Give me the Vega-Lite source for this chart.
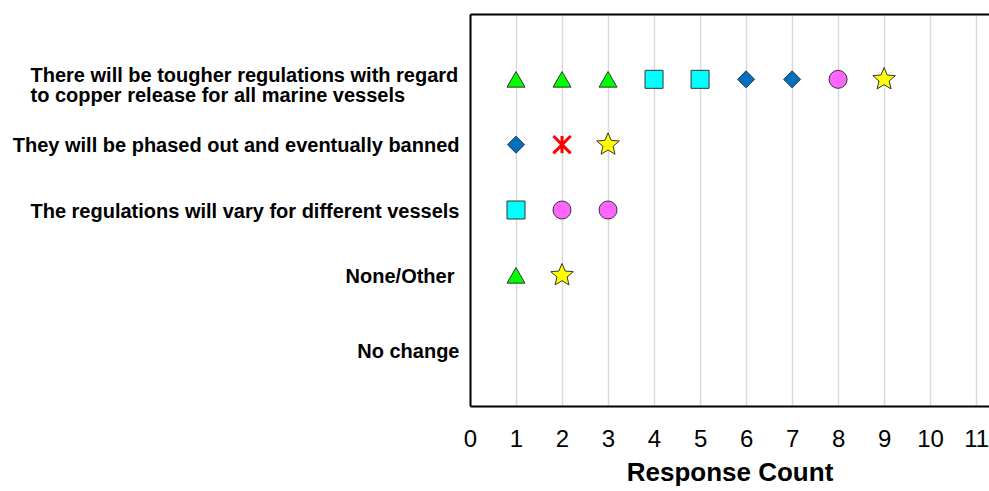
{
  "$schema": "https://vega.github.io/schema/vega-lite/v6.json",
  "width": 519,
  "height": 392,
  "autosize": {"type": "none"},
  "padding": {"left": 470, "top": 14, "right": 0, "bottom": 85},
  "background": "white",
  "config": {
    "view": {"stroke": null},
    "font": "Liberation Sans"
  },
  "data": {
    "values": [
      {"statement": "There will be tougher regulations with regard to copper release for all marine vessels", "count": 1, "series": "Series 1"},
      {"statement": "There will be tougher regulations with regard to copper release for all marine vessels", "count": 2, "series": "Series 1"},
      {"statement": "There will be tougher regulations with regard to copper release for all marine vessels", "count": 3, "series": "Series 1"},
      {"statement": "There will be tougher regulations with regard to copper release for all marine vessels", "count": 4, "series": "Series 2"},
      {"statement": "There will be tougher regulations with regard to copper release for all marine vessels", "count": 5, "series": "Series 2"},
      {"statement": "There will be tougher regulations with regard to copper release for all marine vessels", "count": 6, "series": "Series 3"},
      {"statement": "There will be tougher regulations with regard to copper release for all marine vessels", "count": 7, "series": "Series 3"},
      {"statement": "There will be tougher regulations with regard to copper release for all marine vessels", "count": 8, "series": "Series 4"},
      {"statement": "There will be tougher regulations with regard to copper release for all marine vessels", "count": 9, "series": "Series 5"},
      {"statement": "They will be phased out and eventually banned", "count": 1, "series": "Series 3"},
      {"statement": "They will be phased out and eventually banned", "count": 2, "series": "Series 6"},
      {"statement": "They will be phased out and eventually banned", "count": 3, "series": "Series 5"},
      {"statement": "The regulations will vary for different vessels", "count": 1, "series": "Series 2"},
      {"statement": "The regulations will vary for different vessels", "count": 2, "series": "Series 4"},
      {"statement": "The regulations will vary for different vessels", "count": 3, "series": "Series 4"},
      {"statement": "None/Other", "count": 1, "series": "Series 1"},
      {"statement": "None/Other", "count": 2, "series": "Series 5"}
    ]
  },
  "encoding": {
    "y": {
      "field": "statement",
      "type": "nominal",
      "sort": null,
      "scale": {
        "type": "point",
        "padding": 1,
        "domain": [
          "There will be tougher regulations with regard to copper release for all marine vessels",
          "They will be phased out and eventually banned",
          "The regulations will vary for different vessels",
          "None/Other",
          "No change"
        ]
      },
      "axis": {
        "title": null,
        "ticks": false,
        "grid": false,
        "domainColor": "black",
        "domainWidth": 2,
        "labelFont": "Liberation Sans",
        "labelFontWeight": "bold",
        "labelFontSize": 20,
        "labelColor": "black",
        "labelAlign": {"condition": {"test": "indexof(datum.value, 'There will') == 0", "value": "left"}, "value": "right"},
        "labelPadding": {"condition": [
          {"test": "indexof(datum.value, 'There will') == 0", "value": 440},
          {"test": "datum.value == 'None/Other'", "value": 16}
        ], "value": 11},
        "labelOffset": {"condition": [
          {"test": "indexof(datum.value, 'There will') == 0", "value": -4},
          {"test": "datum.value == 'No change'", "value": 11}
        ], "value": 1},
        "labelLimit": 0,
        "labelLineHeight": 20,
        "labelExpr": "datum.value == 'There will be tougher regulations with regard to copper release for all marine vessels' ? ['There will be tougher regulations with regard', 'to copper release for all marine vessels'] : datum.label"
      }
    }
  },
  "layer": [
    {
      "transform": [{"filter": "datum.series != 'Series 6'"}],
      "mark": {"type": "point", "filled": true, "stroke": "#333333", "strokeWidth": 1, "opacity": 1},
      "encoding": {
        "x": {
          "field": "count",
          "type": "quantitative",
          "scale": {"domain": [0, 11.28], "nice": false, "zero": true},
          "axis": {
            "title": "Response Count",
            "orient": "bottom",
            "values": [0, 1, 2, 3, 4, 5, 6, 7, 8, 9, 10, 11],
            "ticks": false,
            "grid": true,
            "gridColor": "#d9d9d9",
            "gridWidth": 1.5,
            "domainColor": "black",
            "domainWidth": 2,
            "labelFont": "Liberation Sans",
            "labelFontSize": 24,
            "labelColor": "black",
            "labelPadding": 21,
            "labelFlush": false,
            "labelOverlap": false,
            "titleFont": "Liberation Sans",
            "titleFontSize": 26,
            "titleFontWeight": "bold",
            "titleColor": "black",
            "titlePadding": 8
          }
        },
        "shape": {
          "field": "series",
          "type": "nominal",
          "scale": {
            "domain": ["Series 1", "Series 2", "Series 3", "Series 4", "Series 5"],
            "range": ["triangle-up", "square", "diamond", "circle", "M0,-1L0.265,-0.364L0.951,-0.309L0.428,0.139L0.588,0.809L0,0.45L-0.588,0.809L-0.428,0.139L-0.951,-0.309L-0.265,-0.364Z"]
          },
          "legend": null
        },
        "size": {
          "field": "series",
          "type": "nominal",
          "scale": {
            "type": "ordinal",
            "domain": ["Series 1", "Series 2", "Series 3", "Series 4", "Series 5"],
            "range": [324, 324, 290, 324, 560]
          },
          "legend": null
        },
        "fill": {
          "field": "series",
          "type": "nominal",
          "scale": {
            "domain": ["Series 1", "Series 2", "Series 3", "Series 4", "Series 5"],
            "range": ["#00ff00", "#00ffff", "#0070c0", "#ff66ff", "#ffff00"]
          },
          "legend": null
        }
      }
    },
    {
      "transform": [{"filter": "datum.series == 'Series 6'"}],
      "mark": {
        "type": "point",
        "shape": "M-1,-1L1,1M-1,1L1,-1M0,-1L0,1",
        "filled": false,
        "size": 300,
        "stroke": "#ff0000",
        "strokeWidth": 3,
        "opacity": 1
      },
      "encoding": {
        "x": {
          "field": "count",
          "type": "quantitative",
          "scale": {"domain": [0, 11.28], "nice": false, "zero": true},
          "axis": {
            "orient": "top",
            "title": null,
            "labels": false,
            "ticks": false,
            "grid": false,
            "domainColor": "black",
            "domainWidth": 2
          }
        }
      }
    }
  ],
  "resolve": {"axis": {"x": "independent"}}
}
